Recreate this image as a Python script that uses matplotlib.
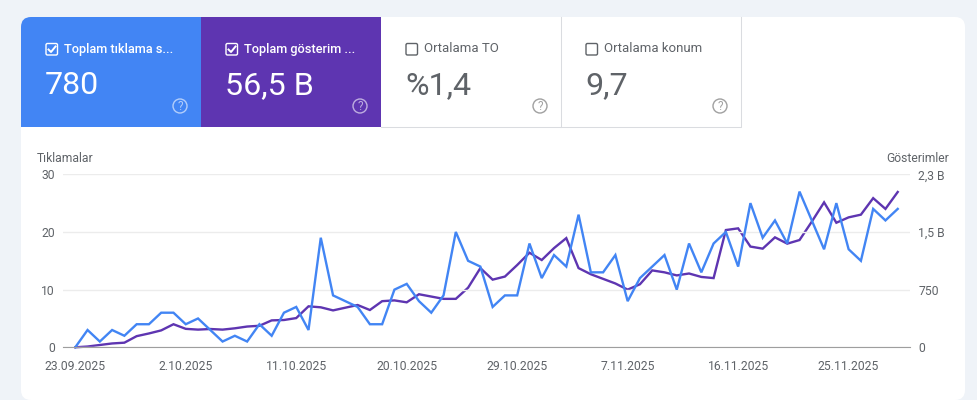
import matplotlib
matplotlib.use("Agg")
import matplotlib.pyplot as plt
from matplotlib.patches import FancyBboxPatch, Rectangle, Circle
import pandas as pd

plt.rcParams['font.family'] = ['Roboto', 'DejaVu Sans']

# data
start_date = '2025-09-23'
clicks = [0, 3, 1, 3, 2, 4, 4, 6, 6, 4, 5, 3, 1, 2, 1, 4, 2, 6, 7, 3,
          19, 9, 8, 7, 4, 4, 10, 11, 8, 6, 9, 20, 15, 14, 7, 9, 9, 18, 12, 16,
          14, 23, 13, 13, 16, 8, 12, 14, 16, 10, 18, 13, 18, 20, 14, 25, 19, 22, 18, 27,
          22, 17, 25, 17, 15, 24, 22, 24]
impressions = [0, 10, 30, 50, 60, 145, 180, 220, 300, 240, 230, 238, 230, 247, 270, 280, 350, 355, 380, 533,
               520, 480, 515, 550, 485, 600, 610, 585, 690, 660, 630, 630, 775, 1030, 880, 920, 1070, 1230, 1135, 1290,
               1420, 1030, 950, 890, 830, 750, 820, 1000, 975, 935, 960, 915, 900, 1525, 1547, 1310, 1283, 1430, 1348, 1395,
               1634, 1885, 1620, 1690, 1725, 1940, 1800, 2020]
click_ticks = [0, 10, 20, 30]
impression_ticks = [0, 750, 1500, 2250]
impression_labels = ['0', '750', '1,5 B', '2,3 B']
tab_titles = ['Toplam tıklama s...', 'Toplam gösterim ...', 'Ortalama TO', 'Ortalama konum']
tab_values = ['780', '56,5 B', '%1,4', '9,7']

BLUE = '#4285f4'
PURPLE = '#5e35b1'
GREY = '#5f6368'
W, H = 977, 400

fig = plt.figure(figsize=(W / 100, H / 100), dpi=100, facecolor='#eff3f8')

# overlay in pixels for the card and the tabs
bg = fig.add_axes([0, 0, 1, 1])
bg.set_xlim(0, W)
bg.set_ylim(H, 0)
bg.axis('off')

card = FancyBboxPatch((21, 17), 944, 383, boxstyle='round,pad=0,rounding_size=10',
                      fc='white', ec='none')
bg.add_patch(card)

tab_w = 180
tab_top, tab_bot = 17, 127
fills = [BLUE, PURPLE, 'white', 'white']
for i, title in enumerate(tab_titles):
    x0 = 21 + i * tab_w
    active = i < 2
    tab = Rectangle((x0, tab_top), tab_w, tab_bot - tab_top, fc=fills[i], ec='none')
    bg.add_patch(tab)
    tab.set_clip_path(card)
    if not active:
        bg.plot([x0, x0 + tab_w - 0.5, x0 + tab_w - 0.5], [tab_bot, tab_bot, tab_top],
                color='#dadce0', lw=0.75)

    txt = 'white' if active else GREY
    # checkbox
    box = FancyBboxPatch((x0 + 25, 43.5), 11.5, 11.5, boxstyle='round,pad=0,rounding_size=1.5',
                         fc='none', ec=txt, lw=1)
    bg.add_patch(box)
    if active:
        bg.plot([x0 + 27.5, x0 + 30, x0 + 34.5], [49.5, 52, 46.5], color='white', lw=1.4)
    bg.text(x0 + 43.5, 49, title, color=txt, fontsize=9.2 if active else 9.5, va='center', ha='left',
            fontweight='medium' if active else 'normal')
    bg.text(x0 + 24, 86, tab_values[i], color=txt, fontsize=23.2, va='center', ha='left')
    # help icon
    icon_col = '#ffffff' if active else '#616161'
    bg.add_patch(Circle((x0 + 159, 106), 7, fc='none', ec=icon_col, lw=1, alpha=0.6))
    bg.text(x0 + 159, 106, '?', color=icon_col, alpha=0.6, fontsize=8.5, ha='center', va='center')

# chart axes, left axis clicks and right axis impressions
left, right, top, bottom = 63, 910, 174.3, 347.3
ax = fig.add_axes([left / W, 1 - bottom / H, (right - left) / W, (bottom - top) / H])
ax.patch.set_alpha(0)
dates = pd.date_range(start_date, periods=len(clicks), freq='D')
ax2 = ax.twinx()

ax.set_zorder(ax2.get_zorder() + 1)
ax2.plot(dates, impressions, color=PURPLE, lw=1.7, solid_joinstyle='miter', clip_on=False)
ax.plot(dates, clicks, color=BLUE, lw=1.7, solid_joinstyle='miter', clip_on=False)

ax.set_xlim(dates[0] - pd.Timedelta(days=1), dates[-1] + pd.Timedelta(days=1))
ax.set_ylim(0, 30)
ax2.set_ylim(0, 2250)
ax.set_yticks(click_ticks)
ax2.set_yticks(impression_ticks)
ax2.set_yticklabels(impression_labels)
ticks = dates[::9]
ax.set_xticks(ticks)
ax.set_xticklabels([f'{d.day}.{d.month:02d}.{d.year}' for d in ticks])

ax.grid(axis='y', color='#ececec', lw=1)
ax.set_axisbelow(True)
for a in (ax, ax2):
    for s in a.spines.values():
        s.set_visible(False)
ax.spines['bottom'].set_visible(True)
ax.spines['bottom'].set_color('#9e9e9e')
ax.tick_params(axis='both', length=0, labelsize=8.7, labelcolor=GREY)
ax.tick_params(axis='x', pad=9)
ax.tick_params(axis='y', pad=6)
ax2.tick_params(axis='y', length=0, labelsize=8.7, labelcolor=GREY, pad=6)

bg.text(37, 158, 'Tıklamalar', color=GREY, fontsize=8.7, va='center', ha='left')
bg.text(949, 158, 'Gösterimler', color=GREY, fontsize=8.7, va='center', ha='right')

fig.savefig('out.png', dpi=100, facecolor=fig.get_facecolor())
